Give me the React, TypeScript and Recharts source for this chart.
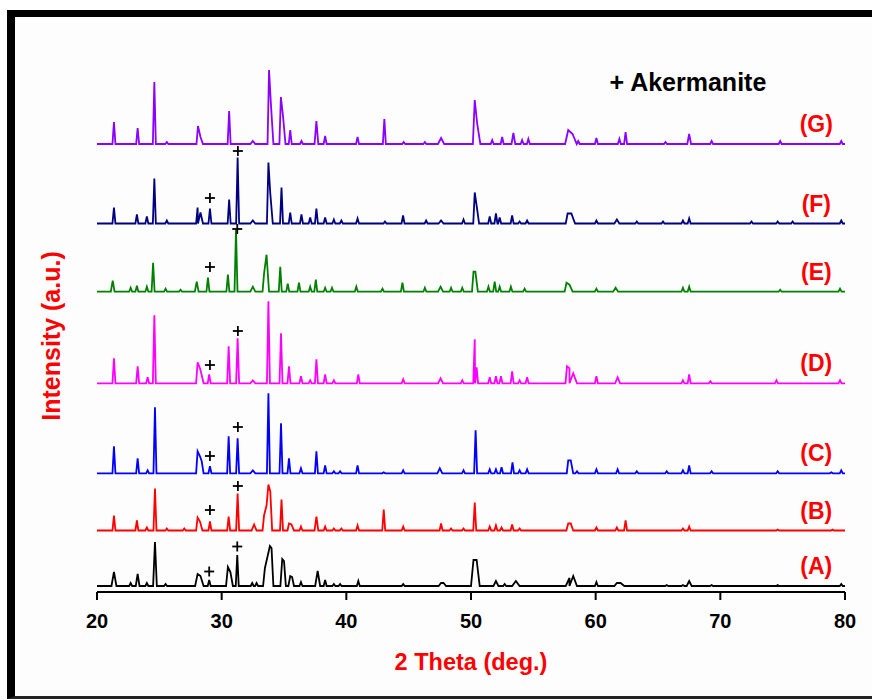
import React from 'react';
import { ComposedChart, Line, XAxis, YAxis, Scatter, ReferenceDot } from 'recharts';

const FONT = '"Liberation Sans", Arial, Helvetica, sans-serif';

// [2theta, height above baseline, half width (optional)]
const peaksA = [
  [21.36, 14, 0.2], [22.7, 3], [23.26, 12, 0.15], [24.0, 3], [24.65, 44, 0.15], [25.5, 2],
  [28.07, 12, 0.2], [28.3, 10, 0.25], [29.0, 6], [30.5, 19, 0.15], [30.7, 14, 0.2], [31.25, 31],
  [32.45, 3], [32.8, 3], [33.47, 18, 0.15], [33.87, 40, 0.4], [34.0, 38, 0.15], [34.86, 27, 0.15],
  [35.0, 25, 0.15], [35.5, 10, 0.15], [35.65, 9, 0.15], [36.36, 4], [37.7, 15, 0.2], [38.3, 6],
  [39.0, 2], [39.5, 2], [40.96, 5], [44.56, 2], [47.6, 3, 0.2], [47.8, 3, 0.2], [50.2, 26, 0.2],
  [50.45, 26, 0.25], [52.0, 5, 0.2], [52.7, 2], [53.6, 5, 0.3], [57.9, 8, 0.3], [58.2, 10, 0.3],
  [60.06, 4], [61.7, 3, 0.2], [62.0, 3, 0.3], [65.7, 1], [67.0, 1], [67.5, 5, 0.2], [69.3, 1],
  [74.6, 1], [79.7, 2],
];
const peaksB = [
  [21.36, 15], [23.2, 10], [24.0, 3], [24.65, 42], [25.6, 2], [27.0, 2], [28.07, 13], [28.26, 9, 0.2],
  [29.06, 9], [30.56, 14], [31.28, 37], [32.6, 6, 0.2], [33.4, 15], [33.6, 25, 0.2], [33.75, 46, 0.15],
  [33.9, 39, 0.15], [34.8, 31], [35.4, 7], [35.6, 6, 0.2], [36.36, 4], [37.6, 14, 0.15], [38.3, 4],
  [39.0, 2], [39.6, 2], [40.9, 5], [43.0, 21], [44.56, 4], [47.6, 7], [48.4, 2], [49.4, 2], [50.3, 28],
  [51.5, 4], [52.0, 5], [52.45, 3], [53.3, 6], [53.9, 2], [57.8, 7, 0.15], [58.0, 7, 0.2], [60.06, 3],
  [61.7, 3], [62.4, 10], [67.0, 2], [67.5, 4], [74.6, 1], [79.0, 1],
];
const peaksC = [
  [21.36, 27], [23.26, 15], [24.06, 3], [24.65, 66], [28.07, 22], [28.26, 17, 0.2], [28.4, 12, 0.15],
  [29.06, 7], [30.56, 37], [31.28, 35], [32.5, 3, 0.2], [33.75, 80], [34.76, 50], [35.4, 15], [36.36, 5],
  [37.6, 22], [38.3, 8], [39.0, 2], [39.5, 2], [40.9, 8], [43.0, 1], [44.56, 3], [47.5, 5, 0.2], [49.4, 3],
  [50.37, 43], [51.5, 4], [52.0, 4], [52.45, 6], [53.33, 11], [53.9, 3], [54.5, 4], [57.8, 13],
  [58.0, 13, 0.2], [58.5, 2], [60.06, 4], [61.76, 4], [63.3, 2], [65.7, 2], [67.0, 3], [67.5, 8],
  [69.3, 2], [74.6, 2], [78.9, 1], [79.7, 3],
];
const peaksD = [
  [21.36, 25], [23.26, 17], [24.06, 6], [24.6, 68], [28.07, 21], [28.26, 15, 0.2], [28.4, 8, 0.15],
  [29.0, 9], [30.56, 37], [31.28, 45], [32.5, 3, 0.2], [33.75, 82], [34.76, 50], [35.4, 17], [36.36, 7],
  [37.1, 3], [37.6, 24], [38.3, 9], [39.0, 3], [40.96, 9], [44.56, 4], [47.56, 5, 0.2], [49.3, 3],
  [50.3, 44], [50.45, 16], [51.5, 6], [52.0, 7], [52.4, 7], [53.3, 12], [53.9, 3], [54.5, 6], [57.7, 17],
  [57.9, 15, 0.2], [58.2, 10, 0.3], [60.06, 7], [61.76, 6, 0.2], [67.0, 3], [67.5, 9], [69.2, 2],
  [74.5, 3], [79.6, 3],
];
const peaksE = [
  [21.26, 11, 0.15], [22.7, 4], [23.2, 6], [24.0, 5], [24.5, 29], [25.5, 3], [26.7, 2], [28.0, 10, 0.15],
  [28.9, 14], [30.5, 17], [31.15, 62], [32.5, 5, 0.2], [33.4, 18], [33.6, 37, 0.2], [34.7, 25], [35.3, 8],
  [36.2, 9], [37.1, 5], [37.55, 12], [38.3, 4], [38.85, 4], [40.8, 5], [42.9, 3], [44.5, 9], [46.3, 4],
  [47.56, 5, 0.2], [48.4, 4], [49.3, 4], [50.2, 20], [50.35, 20, 0.2], [51.4, 5], [51.9, 10], [52.3, 5],
  [53.2, 5], [54.3, 3], [57.66, 9, 0.15], [57.9, 7, 0.25], [60.06, 3], [61.6, 4, 0.2], [67.0, 4],
  [67.5, 5], [74.8, 2], [79.6, 3],
];
const peaksF = [
  [21.36, 16], [23.2, 9], [24.0, 7], [24.6, 45], [25.6, 3], [28.07, 16], [28.3, 11, 0.2], [29.06, 15],
  [30.6, 24], [31.28, 66], [32.5, 3, 0.2], [33.75, 61], [33.9, 30, 0.2], [34.8, 36], [35.5, 11],
  [36.4, 9], [37.1, 6], [37.6, 15], [38.3, 6], [39.0, 4], [39.6, 3], [40.9, 5], [43.1, 2], [44.55, 8],
  [46.4, 3], [47.6, 3, 0.2], [49.4, 4], [50.3, 31], [50.45, 18, 0.2], [51.5, 7], [52.0, 10], [52.3, 6],
  [53.3, 8], [53.9, 2], [54.5, 3], [57.75, 10, 0.15], [58.05, 10, 0.3], [60.06, 3], [61.7, 4, 0.2],
  [63.3, 2], [65.4, 2], [67.0, 3], [67.5, 5], [72.5, 2], [74.6, 2], [75.8, 2], [79.7, 3],
];
const peaksG = [
  [21.36, 22], [23.26, 16], [24.6, 62], [25.6, 2], [28.1, 18], [28.3, 7, 0.2], [30.6, 33], [32.5, 3, 0.2],
  [33.8, 74], [33.95, 40, 0.2], [34.75, 47], [34.92, 28, 0.2], [35.5, 14], [36.4, 3], [37.6, 23, 0.15],
  [38.3, 8], [40.9, 7], [43.05, 25], [44.6, 2], [46.3, 2], [47.6, 6, 0.25], [50.3, 44, 0.15],
  [50.5, 20, 0.25], [51.7, 4], [52.5, 7], [53.4, 11, 0.15], [54.1, 4], [54.6, 5], [57.8, 14, 0.25],
  [58.15, 10, 0.35], [58.6, 3], [60.06, 6], [61.9, 5], [62.4, 12], [65.6, 2], [67.5, 10, 0.15],
  [69.3, 3], [74.8, 3], [79.7, 3],
];

// vertical offsets (stacking) of each pattern
const seriesNames = ['A', 'B', 'C', 'D', 'E', 'F', 'G'];
const seriesOffsets = [6, 61.5, 118.7, 208.7, 300.3, 368.5, 448];
const seriesColors = ['#000000', '#ff0000', '#0000ff', '#ff00ff', '#008000', '#000080', '#8c00ff'];
const seriesPeaks = [peaksA, peaksB, peaksC, peaksD, peaksE, peaksF, peaksG];

// akermanite markers [2theta, height above baseline]
const markersA = [[29.0, 14.5], [31.25, 39.5]];
const markersB = [[29.06, 20.5], [31.3, 44.5]];
const markersC = [[29.06, 17.3], [31.3, 46.3]];
const markersD = [[29.06, 18.3], [31.3, 52.3]];
const markersE = [[29.06, 24.7], [31.25, 62.7]];
const markersF = [[29.06, 25.5], [31.3, 72.5]];
const seriesMarkers = [markersA, markersB, markersC, markersD, markersE, markersF, []];

const xTicks = [20, 30, 40, 50, 60, 70, 80];
const labelX = 77.7;
const labelLift = 20;
const legendText = '+ Akermanite';
const legendPos = [67.4, 510];

function buildProfile(peaks: number[][], offset: number) {
  const pts: { x: number; y: number }[] = [{ x: 20, y: offset }];
  let lastX = 20;
  peaks.forEach((p, i) => {
    const [pos, h] = p;
    const w = p[2] ?? 0.12;
    if (pos - w > lastX) pts.push({ x: pos - w, y: offset });
    pts.push({ x: pos, y: offset + h });
    lastX = pos;
    const next = peaks[i + 1];
    const nextFoot = next ? next[0] - (next[2] ?? 0.12) : 80;
    if (pos + w < nextFoot) {
      pts.push({ x: pos + w, y: offset });
      lastX = pos + w;
    }
  });
  pts.push({ x: 80, y: offset });
  return pts;
}

const profiles = seriesPeaks.map((p, i) => buildProfile(p, seriesOffsets[i]));
const markerData = seriesMarkers.flatMap((m, i) =>
  m.map(([x, h]) => ({ x, y: seriesOffsets[i] + h }))
);

const PlusShape = (props: any) => {
  const { cx, cy } = props;
  if (cx == null || cy == null) return null;
  return (
    <g>
      <line x1={cx - 5} x2={cx + 5} y1={cy} y2={cy} stroke="#000" strokeWidth={1.8} />
      <line x1={cx} x2={cx} y1={cy - 5} y2={cy + 5} stroke="#000" strokeWidth={1.8} />
    </g>
  );
};

const makeText = (text: string, color: string, size: number) => (props: any) => {
  const { cx, cy } = props;
  return (
    <text
      x={cx}
      y={cy}
      textAnchor="middle"
      dominantBaseline="central"
      fill={color}
      fontFamily={FONT}
      fontWeight="bold"
      fontSize={size}
    >
      {text}
    </text>
  );
};

export default function App() {
  return (
    <div
      style={{
        position: 'absolute',
        left: 0,
        top: 0,
        width: 872,
        height: 700,
        overflow: 'hidden',
        background: '#ffffff',
      }}
    >
      <div
        style={{
          position: 'absolute',
          left: 7,
          top: 10,
          width: 900,
          height: 679,
          borderLeft: '8px solid #000',
          borderTop: '7px solid #000',
          borderBottom: '3px solid #222',
          background: '#fdfdfd',
        }}
      />
      <div style={{ position: 'absolute', left: 0, top: 0 }}>
        <ComposedChart
          width={872}
          height={700}
          margin={{ top: 42, right: 27, bottom: 78, left: 97 }}
        >
          <XAxis
            xAxisId={0}
            dataKey="x"
            type="number"
            domain={[20, 80]}
            ticks={xTicks}
            allowDataOverflow
            stroke="#000"
            strokeWidth={2}
            tickSize={8}
            tickMargin={14}
            height={30}
            tick={{ fill: '#000', fontFamily: FONT, fontWeight: 'bold', fontSize: 20 }}
          />
          <XAxis
            xAxisId="top"
            orientation="top"
            dataKey="x"
            type="number"
            domain={[20, 80]}
            tick={false}
            tickLine={false}
            height={0}
            stroke="#000"
            strokeWidth={2}
          />
          <YAxis
            yAxisId={0}
            type="number"
            domain={[0, 550]}
            allowDataOverflow
            tick={false}
            tickLine={false}
            width={0}
            stroke="#000"
            strokeWidth={2}
          />
          <YAxis
            yAxisId="right"
            orientation="right"
            type="number"
            domain={[0, 550]}
            tick={false}
            tickLine={false}
            width={0}
            stroke="#000"
            strokeWidth={2}
          />
          {profiles.map((data, i) => (
            <Line
              key={seriesNames[i]}
              data={data}
              dataKey="y"
              type="linear"
              stroke={seriesColors[i]}
              strokeWidth={1.8}
              dot={false}
              activeDot={false}
              isAnimationActive={false}
            />
          ))}
          <Scatter data={markerData} dataKey="y" shape={PlusShape} isAnimationActive={false} />
          {seriesNames.map((n, i) => (
            <ReferenceDot
              key={'lbl' + n}
              x={labelX}
              y={seriesOffsets[i] + labelLift}
              r={0}
              shape={makeText('(' + n + ')', '#ff0000', 23)}
            />
          ))}
          <ReferenceDot
            x={legendPos[0]}
            y={legendPos[1]}
            r={0}
            shape={makeText(legendText, '#000000', 25)}
          />
        </ComposedChart>
      </div>
      <div
        style={{
          position: 'absolute',
          left: 471,
          top: 662,
          transform: 'translate(-50%, -50%)',
          whiteSpace: 'nowrap',
          color: '#ff0000',
          fontFamily: FONT,
          fontWeight: 'bold',
          fontSize: 23.5,
        }}
      >
        2 Theta (deg.)
      </div>
      <div
        style={{
          position: 'absolute',
          left: 51,
          top: 336,
          transform: 'translate(-50%, -50%) rotate(-90deg)',
          whiteSpace: 'nowrap',
          color: '#ff0000',
          fontFamily: FONT,
          fontWeight: 'bold',
          fontSize: 25,
        }}
      >
        Intensity (a.u.)
      </div>
    </div>
  );
}
